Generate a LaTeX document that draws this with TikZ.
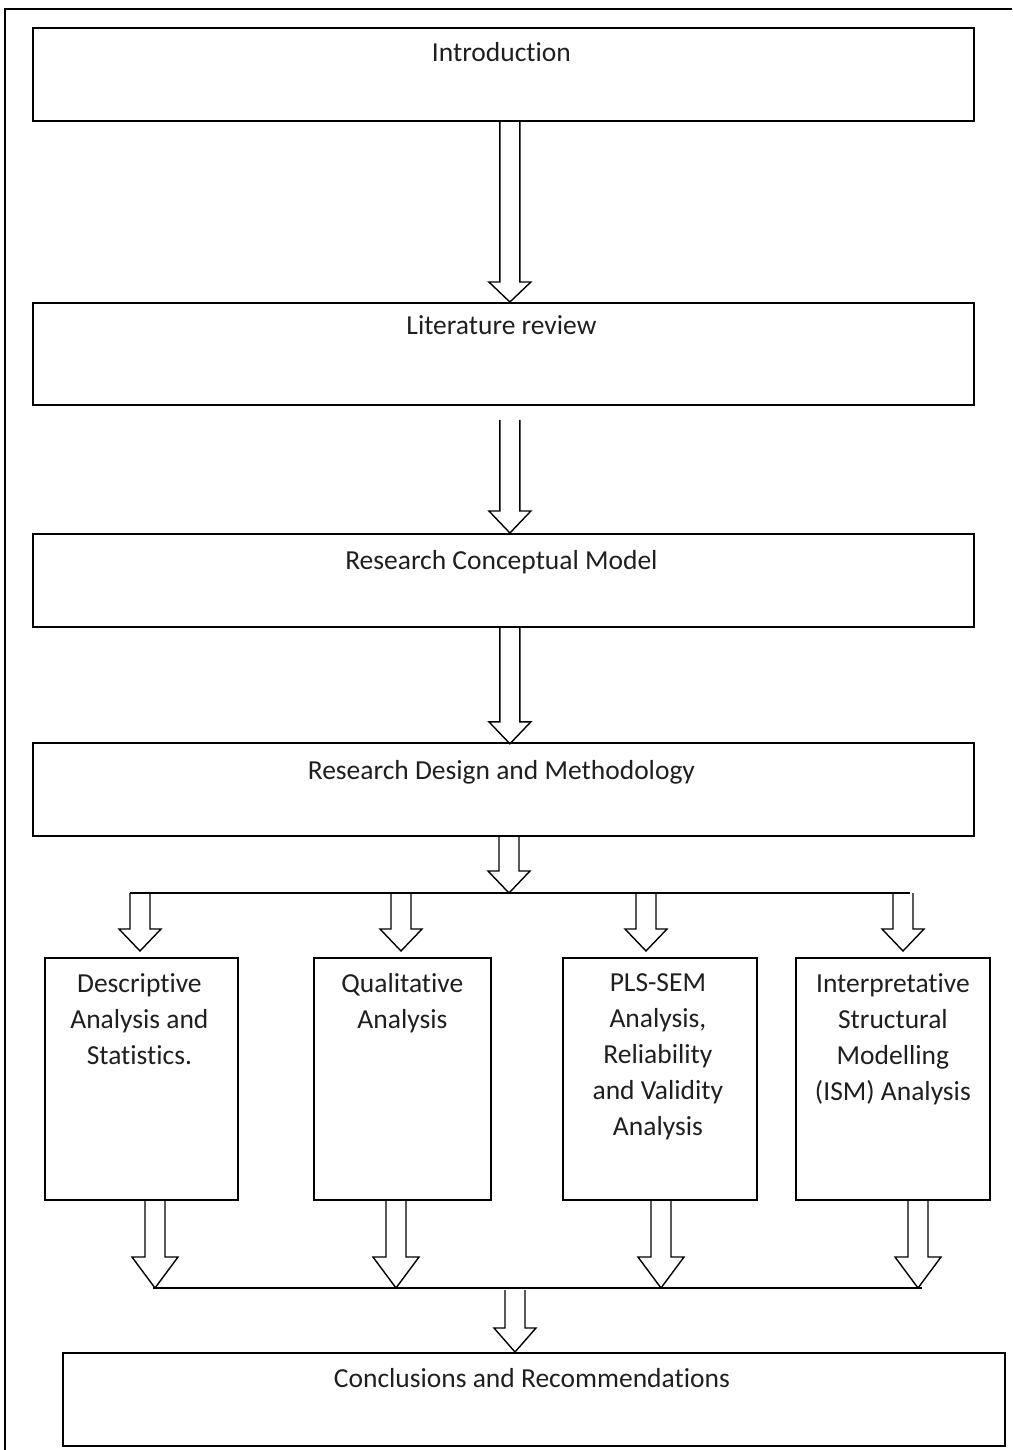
\documentclass[tikz,border=0pt]{standalone}
\usepackage{fontspec}
\setmainfont{Carlito}[Ligatures={NoCommon,NoContextual}]
\usetikzlibrary{calc}

% hollow block arrow: from, to, shaft half-width, head half-width, head length
\newcommand{\fatarrow}[5]{%
  \draw[arrowline] let \p1=(#1), \p2=(#2) in
    (\x1-#3,\y1) -- (\x1-#3,\y2+#5) -- (\x1-#4,\y2+#5) -- (\x1,\y2)
    -- (\x1+#4,\y2+#5) -- (\x1+#3,\y2+#5) -- (\x1+#3,\y1);}

\begin{document}
\begin{tikzpicture}[x=1pt,y=-1pt,
  box/.style={draw, line width=1.8pt, inner sep=0pt, anchor=north west},
  wide/.style={box, minimum width=941pt, minimum height=93pt},
  tall/.style={box, minimum height=242pt},
  lbl/.style={inner sep=0pt, font=\fontsize{27.5}{36}\selectfont, text=black!88},
  multi/.style={lbl, align=center, anchor=north},
  arrowline/.style={draw, line width=1.4pt, line join=miter},
  bar/.style={draw, line width=1.6pt},
  frame/.style={draw, line width=1.8pt}]

\useasboundingbox (0,0) rectangle (1012,1450);
\draw[frame] (5,1450) -- (5,9) -- (1012,9);

% main chain of stages
\node[wide] (intro) at (32,27) {};
\node[lbl, anchor=base] (intro-t) at ($(intro.north)+(-2,35)$) {Introduction};

\node[wide, minimum height=102pt] (lit) at (32,302) {};
\node[lbl, anchor=base] (lit-t) at ($(lit.north)+(-2,32)$) {Literature review};

\node[wide] (rcm) at (32,533) {};
\node[lbl, anchor=base] (rcm-t) at ($(rcm.north)+(-2,36)$) {Research Conceptual Model};

\node[wide] (rdm) at (32,742) {};
\node[lbl, anchor=base] (rdm-t) at ($(rdm.north)+(-2,37)$) {Research Design and Methodology};

% four analysis branches
\node[tall, minimum width=193pt] (desc) at (44,957) {};
\node[multi] (desc-t) at ($(desc.north)+(-2,16)$) {Descriptive\\Analysis and\\Statistics.};

\node[tall, minimum width=177pt] (qual) at (313,957) {};
\node[multi] (qual-t) at ($(qual.north)+(0,16)$) {Qualitative\\Analysis};

\node[tall, minimum width=194pt] (pls) at (562,957) {};
\node[multi] (pls-t) at ($(pls.north)+(-2,16)$) {PLS-SEM\\Analysis,\\Reliability\\and Validity\\Analysis};

\node[tall, minimum width=194pt] (ism) at (795,957) {};
\node[multi] (ism-t) at ($(ism.north)+(0,16)$) {Interpretative\\Structural\\Modelling\\(ISM) Analysis};

% final stage
\node[wide, minimum width=942pt] (concl) at (62,1352) {};
\node[lbl, anchor=base] (concl-t) at ($(concl.north)+(-2,35)$) {Conclusions and Recommendations};

% arrows down the main chain
\fatarrow{$(intro.south)+(6.5,0)$}{$(lit.north)+(6.5,0)$}{10pt}{21pt}{20pt}
\fatarrow{$(lit.south)+(6.5,14)$}{$(rcm.north)+(6.5,0)$}{10pt}{21pt}{22pt}
\fatarrow{$(rcm.south)+(6.5,0)$}{$(rcm.south)+(6.5,116)$}{10pt}{21pt}{22pt}

% split into the branches
\coordinate (sL) at (130,893);
\coordinate (sR) at (910,893);
\coordinate (s0) at (509,893);
\coordinate (s1) at (140,893);
\coordinate (s2) at (401,893);
\coordinate (s3) at (646,893);
\coordinate (s4) at (903,893);
\fatarrow{s0 |- rdm.south}{s0}{10pt}{21pt}{22pt}
\draw[bar] (sL) -- (sR);
\fatarrow{s1}{$(s1 |- desc.north)+(0,-6)$}{10pt}{21pt}{22pt}
\fatarrow{s2}{$(s2 |- qual.north)+(0,-6)$}{10pt}{21pt}{22pt}
\fatarrow{s3}{$(s3 |- pls.north)+(0,-6)$}{10pt}{21pt}{22pt}
\fatarrow{s4}{$(s4 |- ism.north)+(0,-6)$}{10pt}{21pt}{22pt}

% merge back together
\coordinate (jL) at (153,1288);
\coordinate (jR) at (922,1288);
\coordinate (j1) at (155,1288);
\coordinate (j2) at (396,1288);
\coordinate (j3) at (661,1288);
\coordinate (j4) at (918,1288);
\coordinate (j0) at (515,1290);
\fatarrow{j1 |- desc.south}{j1}{10pt}{23pt}{31pt}
\fatarrow{j2 |- qual.south}{j2}{10pt}{23pt}{31pt}
\fatarrow{j3 |- pls.south}{j3}{10pt}{23pt}{31pt}
\fatarrow{j4 |- ism.south}{j4}{10pt}{23pt}{31pt}
\draw[bar] (jL) -- (jR);
\fatarrow{j0}{j0 |- concl.north}{10pt}{21pt}{24pt}
\end{tikzpicture}
\end{document}
